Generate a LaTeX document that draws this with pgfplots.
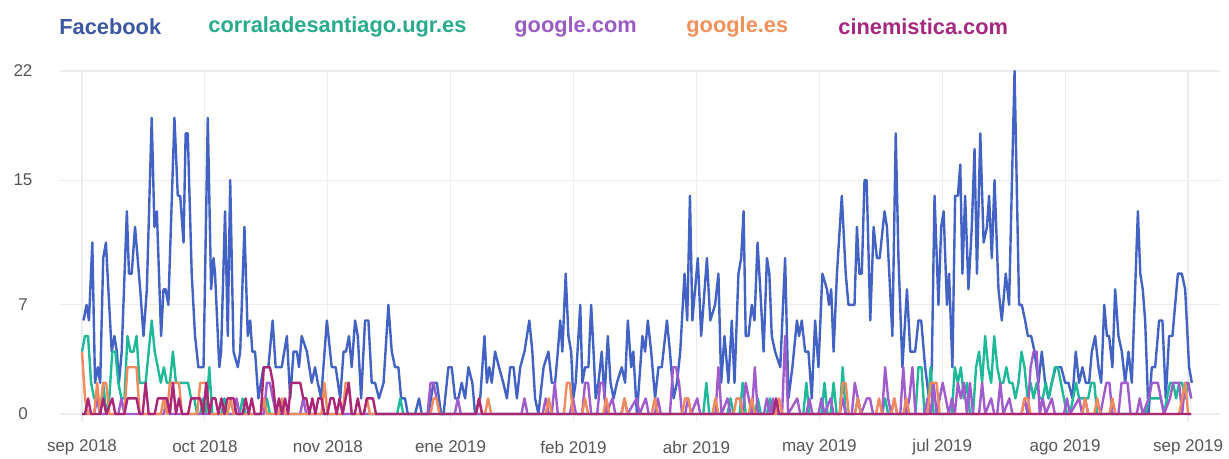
\documentclass[border=0pt]{standalone}
\usepackage{fontspec}
\setmainfont{Liberation Sans}
\usepackage{pgfplots}
\pgfplotsset{compat=1.18}

\definecolor{fbline}{RGB}{66,99,196}
\definecolor{fbtext}{RGB}{60,88,160}
\definecolor{corline}{RGB}{31,185,154}
\definecolor{cortext}{RGB}{40,170,143}
\definecolor{gcomline}{RGB}{160,92,204}
\definecolor{gcomtext}{RGB}{154,92,196}
\definecolor{gesline}{RGB}{242,138,94}
\definecolor{gestext}{RGB}{240,144,90}
\definecolor{cinline}{RGB}{170,38,118}
\definecolor{cintext}{RGB}{163,40,126}
\definecolor{ticktext}{RGB}{85,85,85}

\begin{document}
\begin{tikzpicture}
% canvas: 1229x459 px at 0.5pt per px, axis box SW corner at (0,0)
\path[use as bounding box] (-30pt,-18.6pt) rectangle (584.5pt,210.9pt);

\begin{axis}[
    at={(0,0)}, anchor=south west,
    scale only axis,
    width=580pt, height=175.4pt,
    xmin=-7.26, xmax=375.5,
    ymin=-0.5, ymax=22,
    clip=false,
    axis line style={draw=none},
    major tick length=0pt,
    grid=major,
    grid style={color=black!7, line width=0.6pt},
    ytick={0,7,15,22},
    xtick={0,40.55,81.1,121.65,162.2,202.75,243.3,283.85,324.4,364.95},
    xticklabels={sep 2018,oct 2018,nov 2018,ene 2019,feb 2019,abr 2019,may 2019,jul 2019,ago 2019,sep 2019},
    /pgf/number format/assume math mode=true,
    ticklabel style={font=\fontsize{8.5}{10}\selectfont, text=ticktext},
    yticklabel style={anchor=center, xshift=-18.5pt},
    xticklabel style={anchor=center, yshift=-12.6pt},
    every axis plot/.append style={line width=1.2pt, line join=round, mark=none},
]

% Facebook
\addplot[fbline] table {
0.5 6
1.5 7
2.3 6
3.4 11
4.3 2
5.2 3
6.0 2
7.0 10
7.9 11
8.7 8
9.8 4
10.7 5
11.5 4
12.2 2
13.1 4
14.8 13
15.5 9
16.4 9
17.5 12
19.2 8
20.3 5
21.4 8
23.0 19
23.9 12
24.7 13
26.1 5
26.9 8
27.6 8
28.5 7
30.5 19
31.6 14
32.4 14
33.5 11
34.2 18
34.9 18
36.2 9
37.3 5
38.4 3
40.1 3
41.5 19
42.6 8
43.4 10
43.9 9
45.3 3
45.9 4
47.2 13
48.1 5
48.9 15
50.0 4
51.4 3
52.2 4
53.6 12
54.7 5
55.5 6
56.2 4
57.1 4
58.2 1
59.9 3
61.5 3
62.9 6
63.9 3
65.9 3
67.6 5
68.7 1
69.8 4
70.9 4
71.6 3
72.5 5
74.2 4
75.8 2
76.9 3
77.8 2
78.9 1
80.8 6
82.4 3
83.7 3
85.2 1
86.3 4
87.1 4
88.1 5
89.0 3
90.1 6
91.0 5
92.1 1
93.4 6
94.5 6
95.6 2
96.7 2
98.0 1
99.5 2
101.1 7
102.2 4
103.3 3
104.4 3
105.3 1
106.6 1
107.5 0
109.9 0
111.2 1
112.1 0
114.3 0
116.0 2
117.1 2
118.5 0
119.3 0
120.9 3
122.0 3
123.1 1
124.2 1
125.3 2
126.4 1
127.5 3
128.8 2
129.7 0
131.4 1
132.8 5
133.6 2
134.4 3
135.2 2
136.3 4
137.6 3
139.0 2
140.2 1
141.3 3
142.4 3
143.5 1
144.6 3
146.0 4
147.6 6
148.6 4
149.5 1
150.6 0
152.3 3
153.9 4
155.0 2
156.1 2
157.0 4
157.8 6
158.5 4
159.6 9
160.5 5
161.4 4
162.1 1
162.9 2
164.4 7
165.1 2
166.0 3
167.1 3
168.0 7
168.8 4
169.5 1
170.4 2
171.5 4
172.4 1
173.5 5
174.4 2
175.4 1
176.5 2
178.1 3
179.2 2
180.1 6
181.2 3
181.9 4
183.1 0
184.2 3
184.9 5
185.8 4
186.7 6
187.8 4
189.1 1
190.2 3
191.3 3
193.0 6
194.0 4
195.2 1
196.3 2
197.4 4
198.8 9
199.7 6
200.6 14
201.4 6
203.2 10
204.3 5
206.2 10
207.3 6
208.9 7
210.0 9
210.9 2
212.0 5
213.3 2
214.4 6
215.3 2
216.6 9
217.5 10
218.3 13
219.0 5
219.9 5
221.0 7
221.9 6
222.9 11
223.8 8
224.9 4
226.0 10
226.8 9
227.6 5
228.7 4
230.4 3
232.0 10
233.1 1
234.4 3
235.9 6
236.6 5
237.5 6
238.6 4
239.7 4
240.8 1
241.9 6
243.0 3
244.3 9
245.8 8
246.5 7
247.2 8
248.0 4
249.1 9
250.7 14
252.0 9
252.9 7
254.0 7
254.9 7
255.7 12
256.5 9
257.3 9
258.2 15
258.9 15
260.1 6
261.2 12
262.3 10
263.2 10
264.8 13
265.6 12
267.4 5
268.5 18
269.4 10
270.7 3
272.2 8
273.3 4
274.9 4
276.0 6
276.9 6
278.2 3
279.5 1
280.4 3
281.3 14
282.6 7
283.5 12
284.3 13
285.4 7
286.1 9
287.2 3
288.1 14
289.0 14
289.8 16
290.5 9
291.4 14
292.5 8
293.6 12
294.5 17
295.3 9
296.4 18
297.5 11
298.6 12
299.3 14
300.2 10
301.1 15
302.4 8
303.5 6
304.8 9
305.9 7
307.7 22
309.2 7
310.1 7
311.2 6
312.1 5
313.2 5
314.3 4
315.6 2
316.7 4
317.8 2
318.9 1
320.0 2
321.3 3
323.1 3
324.4 2
325.5 2
326.8 1
327.9 4
329.0 2
330.1 3
331.2 2
332.3 2
333.2 4
334.3 5
335.4 3
336.3 2
337.3 7
338.2 5
338.9 5
340.0 3
340.9 8
342.0 5
343.1 4
344.2 2
345.3 4
346.4 2
348.4 13
349.2 9
350.0 8
350.8 6
351.9 0
353.0 3
354.1 3
355.4 6
356.5 6
357.6 1
358.7 5
359.8 5
361.6 9
362.9 9
364.0 8
365.3 3
366.2 2
};

% corraladesantiago.ugr.es
\addplot[corline] coordinates {
(0,4)(1,5)(2,5)(3,2)(4,1)(5,1)(6,0)(7,2)(8,0)(9,1)(10,4)(11,4)(12,2)(13,1)(14,1)
(15,5)(16,4)(17,4)(18,5)(19,2)(20,2)(21,2)(22,4)(23,6)(24,4)(25,3)(26,2)(27,3)
(28,2)(29,2)(30,4)(31,2)(32,2)(33,2)(34,2)(35,2)(36,1)(37,1)(38,0)(39,0)(40,1)
(41,0)(42,3)(43,0)(46,0)(47,1)(48,0)(52,0)(53,1)(54,0)(60,0)(61,1)(62,0)(104,0)
(105,1)(106,0)(205,0)(206,2)(207,0)(213,0)(214,1)(215,0)(217,0)(218,2)(219,0)
(222,0)(223,1)(224,0)(226,0)(227,1)(228,0)(238,0)(239,2)(240,0)(244,0)(245,2)
(246,0)(247,0)(248,2)(249,0)(250,0)(251,3)(252,0)(255,0)(256,1)(257,0)(264,0)
(265,1)(266,0)(275,0)(276,3)(277,3)(278,0)(279,0)(280,3)(281,0)(287,0)(288,3)
(289,2)(290,3)(291,1)(292,2)(293,0)(294,0)(295,3)(296,4)(297,2)(298,5)(299,3)
(300,2)(301,5)(302,3)(303,2)(304,2)(305,3)(306,2)(307,2)(308,1)(309,2)(310,4)
(311,3)(312,1)(313,2)(314,1)(315,2)(316,1)(317,1)(318,2)(319,1)(320,2)(321,3)
(322,3)(323,2)(324,1)(325,0)(326,0)(327,1)(328,2)(329,1)(330,1)(331,1)(332,1)
(333,2)(334,2)(335,0)(351,0)(352,1)(353,1)(354,1)(355,1)(356,1)(357,0)(358,1)
(359,2)(360,2)(361,1)(362,2)(363,2)(364,1)(365,2)(366,1)
};

% google.com
\addplot[gcomline] coordinates {
(0,0)(4,0)(5,1)(6,0)(12,0)(13,1)(14,0)(27,0)(28,1)(29,0)(50,0)(51,1)(52,0)(60,0)
(61,2)(62,2)(63,1)(64,0)(72,0)(73,1)(74,0)(114,0)(115,2)(116,2)(117,1)(118,0)
(123,0)(124,1)(125,0)(145,0)(146,1)(147,0)(152,0)(153,1)(154,0)(155,0)(156,2)
(157,0)(161,0)(162,1)(163,0)(165,0)(166,2)(167,2)(168,0)(170,0)(171,2)(172,2)
(173,0)(175,1)(176,0)(178,0)(179,1)(180,0)(183,1)(184,0)(186,1)(187,0)(189,0)
(190,1)(191,0)(194,0)(195,3)(196,3)(197,2)(198,0)(199,0)(200,1)(201,0)(203,1)
(204,0)(209,0)(210,3)(211,0)(213,1)(214,0)(218,0)(219,2)(220,1)(221,0)(222,3)
(223,0)(225,0)(226,1)(227,0)(228,1)(229,0)(231,0)(232,5)(233,0)(236,1)(237,0)
(239,0)(240,1)(241,0)(243,0)(244,1)(245,0)(247,1)(248,0)(250,0)(251,1)(252,0)
(254,0)(255,2)(256,1)(257,0)(259,1)(260,1)(261,0)(264,0)(265,3)(266,1)(267,0)
(268,1)(269,0)(270,0)(271,3)(272,0)(273,1)(274,3)(275,0)(278,0)(279,1)(280,0)
(281,2)(282,0)(284,2)(285,1)(286,0)(287,1)(288,0)(289,2)(290,1)(291,2)(292,0)
(293,2)(294,0)(296,0)(297,2)(298,0)(300,1)(301,0)(302,0)(303,2)(304,0)(306,1)
(307,0)(310,0)(311,1)(312,0)(313,3)(314,4)(315,4)(316,0)(317,1)(318,0)(320,1)
(321,0)(324,0)(325,1)(326,0)(329,1)(330,0)(331,1)(332,0)(336,0)(337,1)(338,2)
(339,2)(340,0)(342,0)(343,2)(344,2)(345,2)(346,0)(348,0)(349,1)(350,0)(352,1)
(353,2)(354,2)(355,2)(356,1)(357,0)(359,1)(360,2)(361,2)(362,2)(363,0)(364,2)
(365,2)(366,1)
};

% google.es
\addplot[gesline] coordinates {
(0,4)(1,1)(2,0)(4,0)(5,2)(6,0)(7,2)(8,2)(9,0)(14,0)(15,3)(16,3)(17,3)(18,3)(19,0)
(26,0)(27,1)(28,0)(29,2)(30,2)(31,2)(32,2)(33,0)(38,0)(39,2)(40,2)(41,2)(42,0)
(48,0)(49,1)(50,0)(59,0)(60,1)(61,0)(65,0)(66,1)(67,0)(79,0)(80,2)(81,0)(86,0)
(87,2)(88,2)(89,0)(93,0)(94,1)(95,0)(115,0)(116,1)(117,1)(118,0)(130,0)(131,1)
(132,0)(133,0)(134,1)(135,0)(153,0)(154,1)(155,0)(159,0)(160,2)(161,2)(162,0)
(165,0)(166,1)(167,0)(172,0)(173,1)(174,0)(178,0)(179,1)(180,0)(188,0)(189,1)
(190,0)(198,0)(199,1)(200,1)(201,0)(208,0)(209,1)(210,0)(215,0)(216,1)(217,1)
(218,0)(220,0)(221,1)(222,0)(229,0)(230,1)(231,0)(250,0)(251,2)(252,2)(253,0)
(255,0)(256,1)(257,0)(262,0)(263,1)(264,0)(267,0)(268,1)(269,0)(271,0)(272,1)
(273,0)(279,0)(280,2)(281,2)(282,2)(283,0)(310,0)(311,1)(312,1)(313,0)(330,0)
(331,1)(332,0)(334,0)(335,1)(336,0)(339,0)(340,1)(341,0)(362,0)(363,1)(364,2)
(365,0)(366,0)
};

% cinemistica.com
\addplot[cinline] coordinates {
(0,0)(1,0)(2,1)(3,0)(6,0)(7,1)(8,0)(10,1)(11,0)(14,0)(15,1)(16,1)(17,1)(18,1)
(19,0)(20,0)(21,2)(22,0)(24,0)(25,1)(26,1)(27,1)(28,1)(29,0)(30,2)(31,0)(32,1)
(33,0)(35,0)(36,1)(37,1)(38,1)(39,1)(40,0)(41,2)(42,0)(43,1)(44,1)(45,0)(46,1)
(47,0)(48,1)(49,1)(50,1)(51,0)(53,0)(54,1)(55,0)(56,1)(57,0)(59,0)(60,3)(61,3)
(62,3)(63,2)(64,0)(65,1)(66,0)(67,1)(68,0)(69,2)(70,2)(71,2)(72,2)(73,1)(74,1)
(75,0)(76,1)(77,0)(78,1)(79,1)(80,0)(81,0)(82,1)(83,1)(84,0)(85,1)(86,0)(87,1)
(88,2)(89,0)(90,0)(91,1)(92,0)(93,0)(94,1)(95,1)(96,1)(97,0)(98,0)(130,0)(131,1)
(132,0)(228,0)(229,1)(230,0)(366,0)
};
\end{axis}

% series names along the top
\begin{scope}[every node/.style={anchor=west, inner sep=0pt,
    font=\fontsize{10.9}{12}\selectfont\bfseries}]
\node[text=fbtext]   at (-0.5pt,197.4pt) {Facebook};
\node[text=cortext]  at (74pt,197.4pt)   {corraladesantiago.ugr.es};
\node[text=gcomtext] at (227pt,197.4pt)  {google.com};
\node[text=gestext]  at (313pt,197.4pt)  {google.es};
\node[text=cintext]  at (389pt,197.4pt)  {cinemistica.com};
\end{scope}
\end{tikzpicture}
\end{document}
